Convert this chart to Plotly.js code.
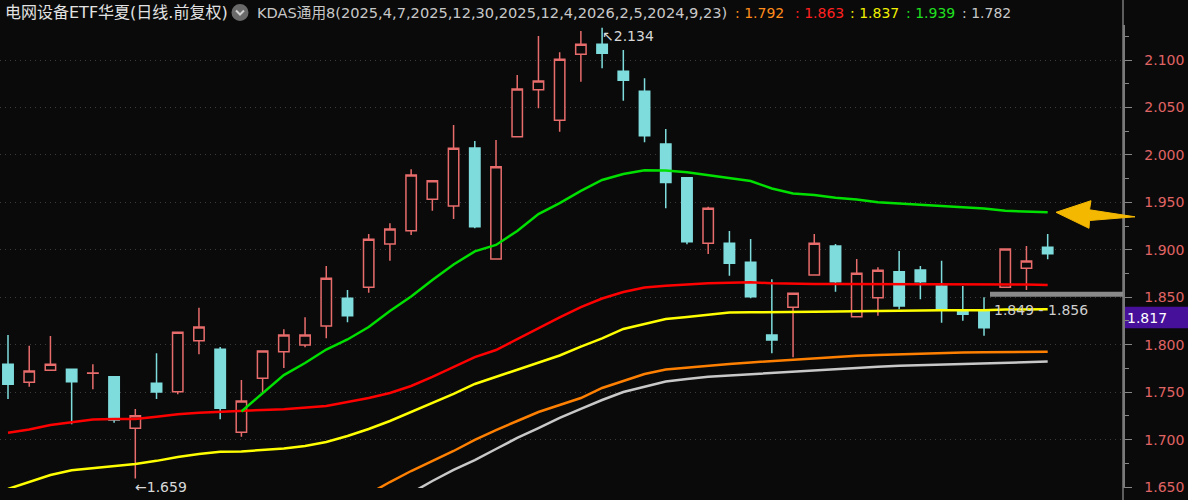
<!DOCTYPE html>
<html><head><meta charset="utf-8">
<script src="https://cdn.plot.ly/plotly-3.0.1.min.js"></script>
<style>html,body{margin:0;padding:0;background:#0a0a0a;} #chart{width:1188px;height:500px;}</style>
</head><body><div id="chart"></div>
<script>
// ---- data ----
const open  = [1.7793,1.7604,1.7730,1.7741,1.7699,1.7663,1.7119,1.7593,1.7505,1.8042,1.7952,1.7077,1.7646,1.7926,1.7997,1.8197,1.8489,1.8605,1.9061,1.9201,1.9532,1.9462,2.0073,1.8903,2.0192,2.0687,2.0365,2.1060,2.1165,2.0881,2.0670,2.0115,1.9760,1.9069,1.9069,1.8868,1.8102,1.8394,1.8735,1.9040,1.8295,1.8495,1.8769,1.8787,1.8619,1.8348,1.8358,1.8605,1.8805,1.9026];
const high  = [1.8102,1.7989,1.8092,1.7741,1.7793,1.7663,1.7322,1.7909,1.8131,1.8390,1.7976,1.7628,1.7934,1.8162,1.8289,1.8829,1.8576,1.9166,1.9279,1.9848,1.9728,2.0315,2.0146,2.0157,2.0842,2.1253,2.1081,2.1306,2.1340,2.1105,2.0807,2.0273,1.9760,1.9454,1.9198,1.9114,1.8689,1.8542,1.9166,1.9061,1.8903,1.8816,1.8987,1.8829,1.8885,1.8619,1.8500,1.9008,1.9040,1.9166];
const low   = [1.7428,1.7557,1.7730,1.7161,1.7530,1.7178,1.6590,1.7428,1.7477,1.7899,1.7214,1.7030,1.7491,1.7754,1.7973,1.8067,1.8236,1.8548,1.8885,1.9156,1.9412,1.9325,1.9227,1.8903,2.0192,2.0491,2.0244,2.0771,2.0913,2.0571,2.0133,1.9437,1.9058,1.8956,1.8727,1.8489,1.7909,1.7867,1.8735,1.8559,1.8295,1.8306,1.8373,1.8478,1.8232,1.8253,1.8095,1.8605,1.8576,1.8900];
const close = [1.7583,1.7723,1.7793,1.7610,1.7701,1.7207,1.7252,1.7502,1.8131,1.8187,1.7330,1.7407,1.7934,1.8102,1.8102,1.8700,1.8306,1.9111,1.9219,1.9788,1.9728,2.0070,1.9243,1.9876,2.0694,2.0779,2.1007,2.1165,2.1071,2.0786,2.0202,1.9709,1.9085,1.9437,1.8858,1.8506,1.8050,1.8542,1.9069,1.8664,1.8752,1.8784,1.8408,1.8664,1.8366,1.8320,1.8179,1.9008,1.8882,1.8959];

// KDAS lines (start index + values)
const redStart = 0;
const redLine = [1.7073,1.7106,1.7154,1.7185,1.7212,1.7217,1.7217,1.7241,1.7267,1.7283,1.7294,1.7301,1.7312,1.7319,1.7333,1.7354,1.7396,1.7438,1.7491,1.7565,1.7660,1.7765,1.7870,1.7944,1.8060,1.8176,1.8287,1.8397,1.8487,1.8555,1.8603,1.8622,1.8636,1.8647,1.8654,1.8658,1.8647,1.8640,1.8640,1.8640,1.8640,1.8640,1.8638,1.8638,1.8638,1.8636,1.8636,1.8634,1.8634,1.8630];
const yellowStart = 0;
const yellowLine = [1.6480,1.6553,1.6627,1.6677,1.6698,1.6720,1.6743,1.6776,1.6817,1.6848,1.6873,1.6875,1.6888,1.6906,1.6933,1.6975,1.7038,1.7112,1.7196,1.7291,1.7386,1.7481,1.7586,1.7660,1.7734,1.7807,1.7886,1.7979,1.8066,1.8166,1.8221,1.8271,1.8293,1.8317,1.8339,1.8341,1.8341,1.8345,1.8348,1.8350,1.8353,1.8358,1.8362,1.8362,1.8362,1.8362,1.8362,1.8370,1.8370,1.8373];
const greenStart = 11;
const greenLine = [1.7296,1.7491,1.7680,1.7807,1.7949,1.8055,1.8187,1.8356,1.8508,1.8682,1.8845,1.8983,1.9051,1.9198,1.9377,1.9493,1.9620,1.9736,1.9799,1.9839,1.9836,1.9817,1.9785,1.9757,1.9725,1.9646,1.9593,1.9577,1.9549,1.9530,1.9502,1.9488,1.9475,1.9458,1.9448,1.9435,1.9411,1.9401,1.9395];
const orangeStart = 17;
const orangeLine = [1.6427,1.6553,1.6669,1.6775,1.6880,1.6996,1.7101,1.7196,1.7291,1.7365,1.7438,1.7544,1.7618,1.7691,1.7739,1.7760,1.7779,1.7797,1.7813,1.7828,1.7841,1.7858,1.7870,1.7883,1.7891,1.7899,1.7904,1.7910,1.7917,1.7921,1.7925,1.7926,1.7926];
const whiteStart = 19;
const whiteLine = [1.6437,1.6564,1.6680,1.6785,1.6901,1.7017,1.7122,1.7228,1.7323,1.7417,1.7502,1.7560,1.7612,1.7639,1.7662,1.7675,1.7689,1.7702,1.7718,1.7733,1.7746,1.7759,1.7768,1.7778,1.7785,1.7792,1.7796,1.7799,1.7808,1.7818,1.7822];

const titleMain = '电网设备ETF华夏(日线.前复权)';
const titleKdas = 'KDAS通用8(2025,4,7,2025,12,30,2025,12,4,2026,2,5,2024,9,23)';
const lastVals = ['1.792','1.863','1.837','1.939','1.782'];
const hiLabel = '2.134', loLabel = '1.659', rangeLabel = '1.849 - 1.856', priceTag = '1.817';
const hiIdx = 28, loIdx = 6;

// ---- build ----
const idx = open.map((_, i) => i);
const seg = (start, vals) => vals.map((_, i) => start + i);

const BG = '#0a0a0a';
const traces = [
  {type:'candlestick', x: idx, open, high, low, close, hoverinfo:'skip',
   increasing:{line:{color:'#e86c6c', width:1.5}, fillcolor:BG},
   decreasing:{line:{color:'#7fdcdc', width:1.5}, fillcolor:'#7fdcdc'}},
  {type:'scatter', mode:'lines', x: seg(whiteStart, whiteLine), y: whiteLine, line:{color:'#c8c8c8', width:2.5}, hoverinfo:'skip'},
  {type:'scatter', mode:'lines', x: seg(orangeStart, orangeLine), y: orangeLine, line:{color:'#ff8000', width:2.5}, hoverinfo:'skip'},
  {type:'scatter', mode:'lines', x: seg(yellowStart, yellowLine), y: yellowLine, line:{color:'#ffff00', width:2.5}, hoverinfo:'skip'},
  {type:'scatter', mode:'lines', x: seg(redStart, redLine), y: redLine, line:{color:'#ff0000', width:2.5}, hoverinfo:'skip'},
  {type:'scatter', mode:'lines', x: seg(greenStart, greenLine), y: greenLine, line:{color:'#00e000', width:2.5}, hoverinfo:'skip'}
];

// pixel -> paper helpers (plot area: x 0..1123, y 25..488)
const PW = 1123, PT = 25, PB = 488;
const X = px => px / PW;
const Y = py => (PB - py) / (PB - PT);

const F = 'DejaVu Sans, Noto Sans CJK SC, sans-serif';
const valColors = ['#ff8c1a','#ff2020','#f0f000','#20e020','#c8c8c8'];
const valX = [733, 793, 847.5, 903.7, 960];

const annotations = [
  {xref:'paper', yref:'paper', x:X(3), y:Y(12.5), xanchor:'left', yanchor:'middle', showarrow:false,
   text:titleMain, font:{family:F, size:16, color:'#e2e2e2'}},
  {xref:'paper', yref:'paper', x:X(254.5), y:Y(12.5), xanchor:'left', yanchor:'middle', showarrow:false,
   text:titleKdas, font:{family:F, size:14.6, color:'#c8c8c8'}},
  ...lastVals.map((v, i) => ({xref:'paper', yref:'paper', x:X(valX[i]), y:Y(12.5), xanchor:'left', yanchor:'middle', showarrow:false,
   text:': ' + v, font:{family:F, size:14, color:valColors[i]}})),
  {xref:'x', yref:'y', x:hiIdx, y:high[hiIdx], xanchor:'left', yanchor:'top', xshift:-2, yshift:2, showarrow:false,
   text:'↖' + hiLabel, font:{family:F, size:14, color:'#d8d8d8'}},
  {xref:'x', yref:'y', x:loIdx, y:low[loIdx], xanchor:'left', yanchor:'middle', xshift:-2, yshift:-8, showarrow:false,
   text:'←' + loLabel, font:{family:F, size:14, color:'#d8d8d8'}},
  {xref:'paper', yref:'paper', x:X(992), y:Y(310), xanchor:'left', yanchor:'middle', showarrow:false,
   text:rangeLabel, font:{family:F, size:14, color:'#cfcfcf'}},
  {xref:'paper', yref:'paper', x:X(1125), y:Y(317.5), xanchor:'left', yanchor:'middle', showarrow:false,
   text:priceTag, font:{family:F, size:14, color:'#ffffff'}}
];

const arrowPts = [[1056,212.3],[1091,200.7],[1089.5,209.8],[1135,216.8],[1089.5,220.5],[1089,228.3]];
const arrowPath = 'M ' + arrowPts.map(p => X(p[0]).toFixed(5) + ',' + Y(p[1]).toFixed(5)).join(' L ') + ' Z';
const chevPath = 'M ' + X(236) + ',' + Y(10.5) + ' L ' + X(240) + ',' + Y(14.5) + ' L ' + X(244) + ',' + Y(10.5);

const shapes = [
  {type:'line', xref:'paper', yref:'paper', x0:1, x1:1, y0:Y(500), y1:Y(0), line:{color:'#7a7a7a', width:1.5}},
  {type:'rect', xref:'paper', yref:'paper', x0:1, x1:X(1188), y0:Y(328.3), y1:Y(306.7), fillcolor:'#46109a', line:{width:0}, layer:'below'},
  {type:'line', xref:'paper', yref:'y', x0:X(990), x1:1, y0:1.8532, y1:1.8532, line:{color:'#8a8a8a', width:5}},
  {type:'circle', xref:'paper', yref:'paper', x0:X(231.5), x1:X(248.5), y0:Y(21), y1:Y(4), fillcolor:'#6a6a6a', line:{width:0}},
  {type:'path', xref:'paper', yref:'paper', path:chevPath, line:{color:'#d0d0d0', width:2}},
  {type:'path', xref:'paper', yref:'paper', path:arrowPath, fillcolor:'#f5b800', line:{color:'#f5b800', width:1}}
];

const layout = {
  width:1188, height:500,
  paper_bgcolor:BG, plot_bgcolor:BG,
  margin:{l:0, r:1188-PW, t:PT, b:500-PB},
  showlegend:false,
  dragmode:false,
  xaxis:{range:[-0.377, 52.55], visible:false, rangeslider:{visible:false}, fixedrange:true},
  yaxis:{side:'right', range:[1.6490, 2.1369], tick0:1.65, dtick:0.05, tickformat:'.3f',
    ticks:'outside', ticklen:7, tickcolor:'#888', tickwidth:1,
    showline:true, linecolor:'#7a7a7a', linewidth:1.5,
    showgrid:true, gridcolor:'#3c3c3c', griddash:'1px,4px', gridwidth:1,
    zeroline:false, ticklabelstandoff:10, fixedrange:true,
    tickfont:{family:'DejaVu Sans, sans-serif', size:14, color:'#e06464'},
    minor:{ticks:'outside', ticklen:4, tickcolor:'#888', dtick:0.025, tick0:1.65, showgrid:false}},
  annotations, shapes
};

Plotly.newPlot('chart', traces, layout, {displayModeBar:false, staticPlot:true});
</script></body></html>
